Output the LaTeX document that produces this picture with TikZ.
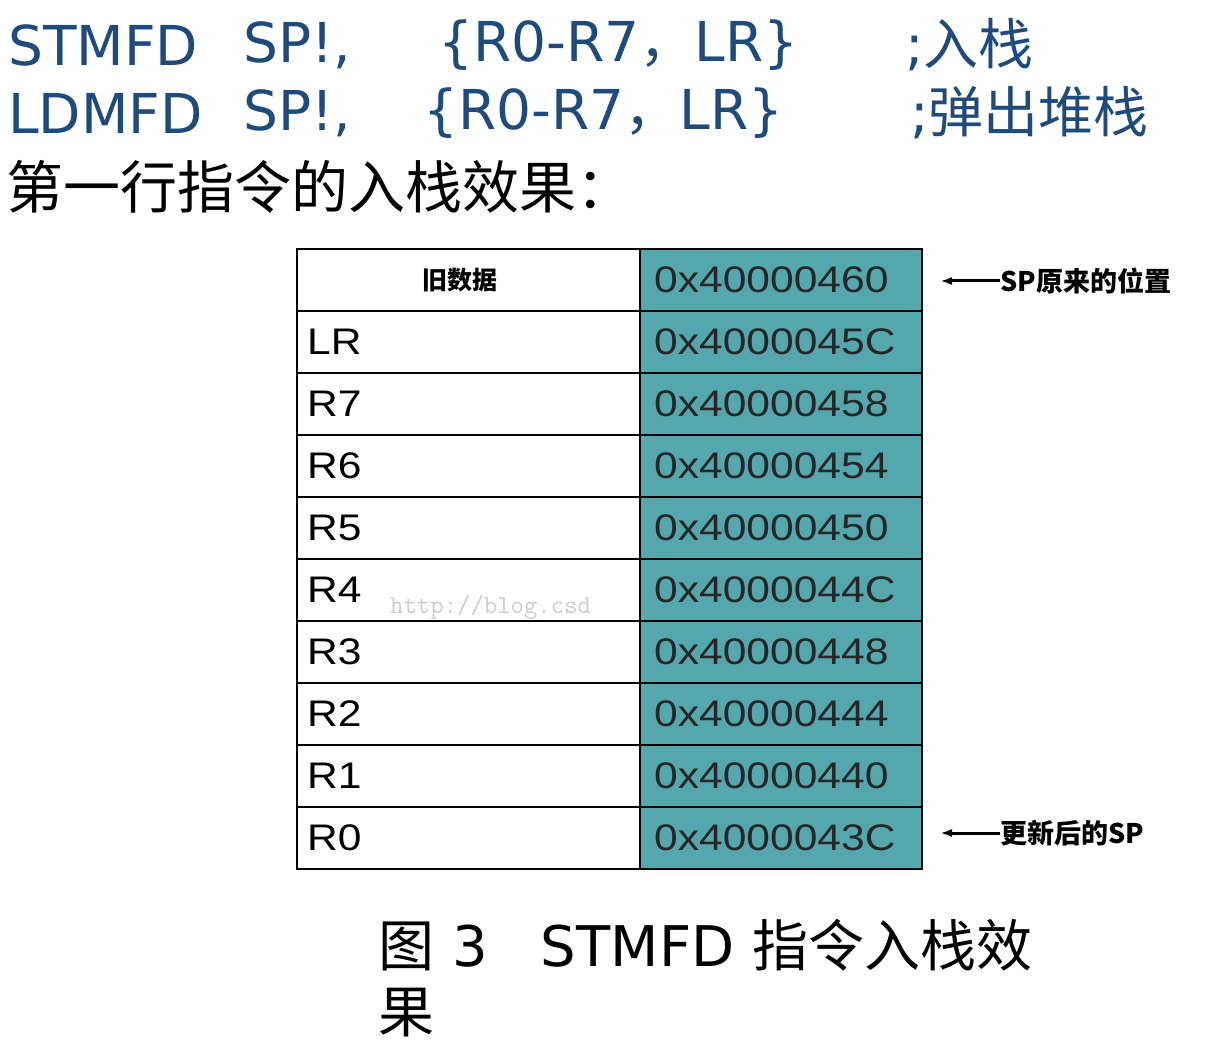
\documentclass[tikz,border=0pt]{standalone}
\usepackage{fontspec}
\usetikzlibrary{arrows.meta}
\setmainfont{DejaVu Sans}
\newfontfamily\cjk{Noto Sans CJK SC}
\newfontfamily\lib{Liberation Sans}
\definecolor{hblue}{HTML}{1F4A7C}
\definecolor{teal}{HTML}{55A7AE}
\begin{document}
\begin{tikzpicture}[x=1pt,y=-1pt,
  hd/.style={anchor=west,inner sep=0,text=hblue,font=\fontsize{55}{55}\selectfont},
  cell/.style={anchor=west,inner sep=0,xscale=1.15,font=\lib\fontsize{37}{37}\selectfont},
  lab/.style={anchor=west,inner sep=0,font=\cjk\bfseries\fontsize{27}{27}\selectfont}]
\useasboundingbox (0,0) rectangle (1222,1056);
\node[hd] (h1a) at (8,45) {STMFD};
\node[hd] (h1c) at (243,45) {SP!,};
\node[hd] (h1d) at (438,45) {\{R0-R7{\cjk，}LR\}};
\node[hd] (h1b) at (905,45) {;{\cjk 入栈}};
\node[hd] (h2a) at (8,113) {LDMFD};
\node[hd] (h2c) at (243,113) {SP!,};
\node[hd] (h2d) at (423,113) {\{R0-R7{\cjk，}LR\}};
\node[hd] (h2b) at (910,113) {;{\cjk 弹出堆栈}};
\node[anchor=west,inner sep=0,font=\cjk\fontsize{57}{57}\selectfont] (h3) at (6,187) {第一行指令的入栈效果：};
\node[anchor=west,inner sep=0,text=black!20,font=\ttfamily\fontsize{26}{26}\selectfont] (wm) at (390,607) {http://blog.csd};
\fill[teal] (640,249) rectangle (922,869);
\draw[line width=2pt] (297,249) rectangle (922,869);
\draw[line width=2pt] (640,249) -- (640,869);
\foreach \i in {1,...,9} \draw[line width=1.5pt] (297,249+62*\i) -- (922,249+62*\i);
\node[inner sep=0,font=\cjk\bfseries\fontsize{25}{25}\selectfont] (old) at (460,280) {旧数据};
\foreach \t [count=\i] in {LR,R7,R6,R5,R4,R3,R2,R1,R0}
  \node[cell] (l\i) at (307,280+62*\i) {\t};
\foreach \t [count=\i from 0] in {0x40000460,0x4000045C,0x40000458,0x40000454,0x40000450,0x4000044C,0x40000448,0x40000444,0x40000440,0x4000043C}
  \node[cell,text=black!85] (r\i) at (654,280+62*\i) {\t};
\node[lab] (sp1) at (1000,281) {SP原来的位置};
\node[lab] (sp2) at (1000,833) {更新后的SP};
\coordinate (a1) at (940,281);
\coordinate (a2) at (940,833);
\draw[-{Latex[length=12pt,width=8pt]},line width=3pt] (sp1.west) -- (a1);
\draw[-{Latex[length=12pt,width=8pt]},line width=3pt] (sp2.west) -- (a2);
\node[anchor=west,inner sep=0,font=\fontsize{56}{56}\selectfont] (c1) at (378,945) {{\cjk 图} 3\ \ \ STMFD {\cjk 指令入栈效}};
\node[anchor=west,inner sep=0,font=\cjk\fontsize{56}{56}\selectfont] (c2) at (378,1013) {果};
\end{tikzpicture}
\end{document}
